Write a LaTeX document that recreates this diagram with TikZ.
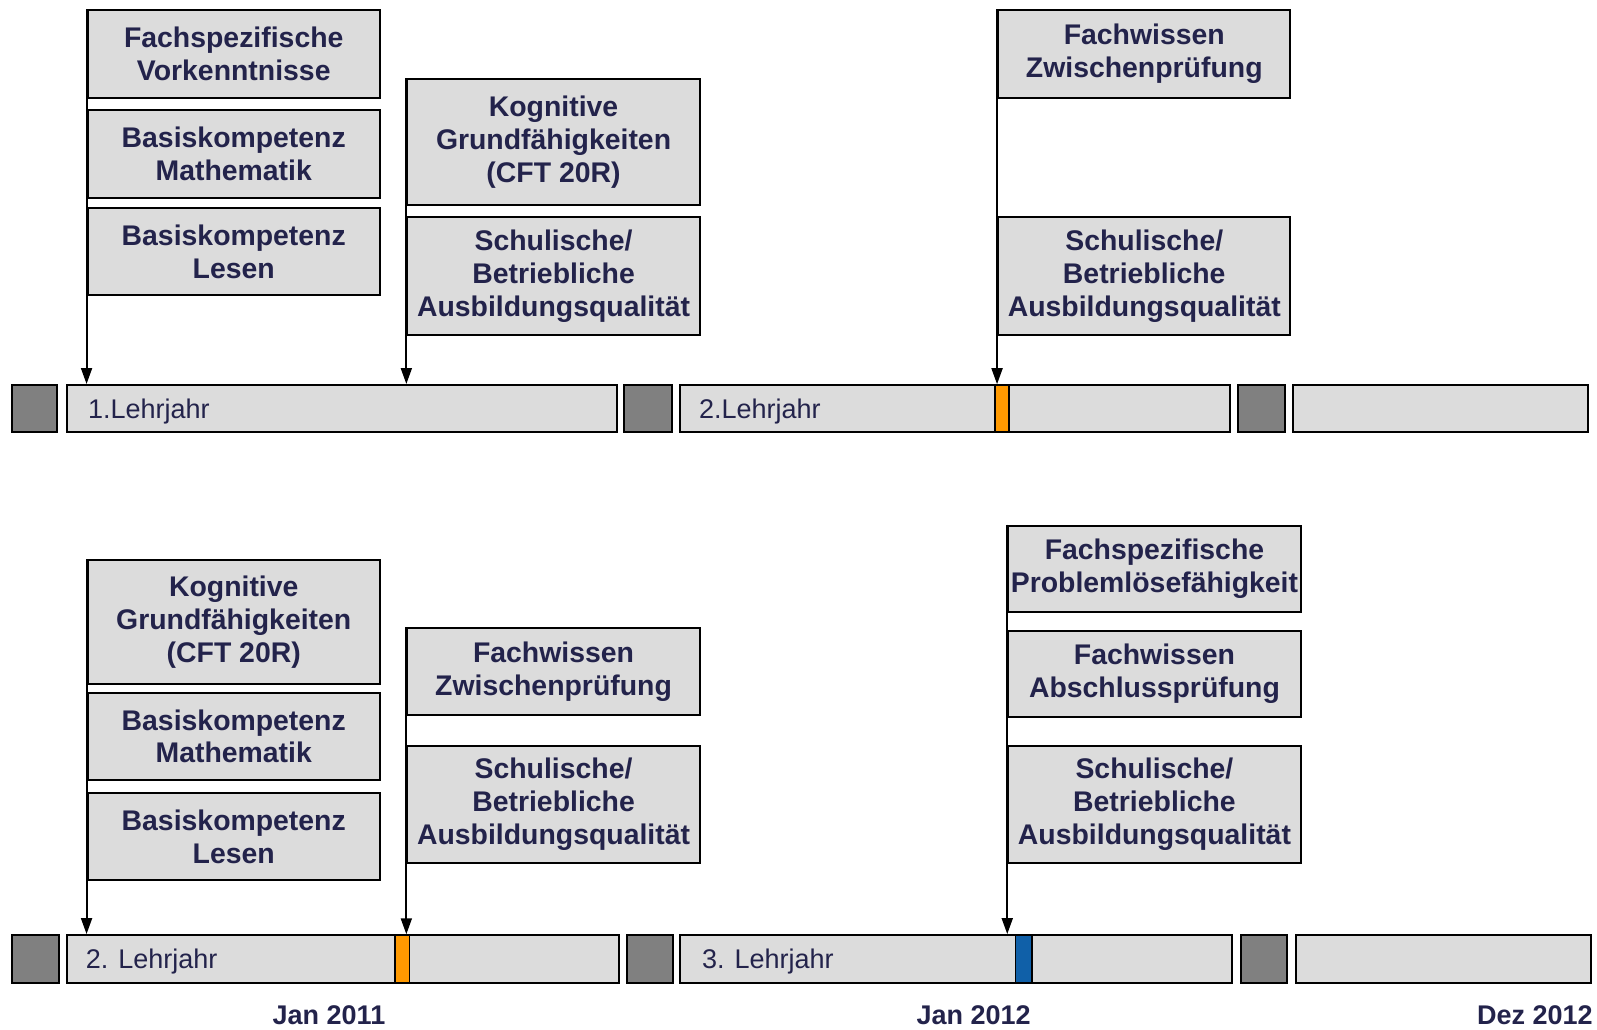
\documentclass[tikz,border=0pt]{standalone}
\usepackage{fontspec}
\setmainfont{Liberation Sans}
\usetikzlibrary{arrows.meta}
\definecolor{boxgray}{RGB}{220,220,220}
\definecolor{darkgray}{RGB}{128,128,128}
\definecolor{txtnavy}{RGB}{35,35,75}
\definecolor{markorange}{RGB}{255,153,0}
\definecolor{markblue}{RGB}{16,96,168}
\begin{document}
\begin{tikzpicture}[x=0.5pt,y=-0.5pt,
  infobox/.style={draw=black,line width=1pt,fill=boxgray,minimum width=146.2pt,inner sep=0pt,
    align=center,text=txtnavy,font=\bfseries\fontsize{14.2}{16.4}\selectfont},
  yearbar/.style={draw=black,line width=1pt,fill=boxgray,inner sep=0pt},
  gapbox/.style={draw=black,line width=1pt,fill=darkgray,inner sep=0pt},
  marker/.style={draw=black,line width=0.8pt,inner sep=0pt},
  barlabel/.style={anchor=west,text=txtnavy,font=\fontsize{13.5}{16}\selectfont,inner sep=0pt},
  datelabel/.style={text=txtnavy,font=\bfseries\fontsize{13.5}{16}\selectfont,inner sep=0pt},
  pointer/.style={line width=0.95pt,-{Triangle[length=8pt,width=5.5pt]}}
]
\useasboundingbox (0,0) rectangle (1597,1029);
% ---------- top row boxes ----------
\node[infobox,minimum height=43.8pt] (A1) at (233.75,54) {Fachspezifische\\Vorkenntnisse};
\node[infobox,minimum height=43.8pt] (A2) at (233.75,153.8) {Basiskompetenz\\Mathematik};
\node[infobox,minimum height=43.8pt] (A3) at (233.75,251.6) {Basiskompetenz\\Lesen};
\node[infobox,minimum height=62.6pt] (B1) at (553.55,142.05) {Kognitive\\Grundfähigkeiten\\(CFT 20R)};
\node[infobox,minimum height=59.1pt] (B2) at (553.55,276) {Schulische/\\Betriebliche\\Ausbildungsqualität};
\node[infobox,minimum height=43.8pt] (C1) at (1144.25,54) {Fachwissen\\Zwischenprüfung};
\node[infobox,minimum height=59.1pt] (C2) at (1144.25,276) {Schulische/\\Betriebliche\\Ausbildungsqualität};
% ---------- top timeline ----------
\node[gapbox,minimum width=22.4pt,minimum height=23.4pt] (g11) at (34.6,408.4) {};
\node[yearbar,minimum width=275pt,minimum height=23.4pt] (y11) at (342.2,408.4) {};
\node[gapbox,minimum width=23.9pt,minimum height=23.4pt] (g12) at (648.25,408.4) {};
\node[yearbar,minimum width=274.9pt,minimum height=23.4pt] (y12) at (955.35,408.4) {};
\node[marker,fill=markorange,minimum width=7.1pt,minimum height=23.4pt] (m11) at (1002.15,408.4) {};
\node[gapbox,minimum width=23.9pt,minimum height=23.4pt] (g13) at (1261.4,408.4) {};
\node[yearbar,minimum width=147.6pt,minimum height=23.4pt] (y13) at (1440.15,408.4) {};
\node[barlabel] (l11) at (87.6,411.5) {1.Lehrjahr};
\node[barlabel] (l12) at (698.7,411.5) {2.Lehrjahr};
% ---------- bottom row boxes ----------
\node[infobox,minimum height=62.1pt] (D1) at (233.75,622.3) {Kognitive\\Grundfähigkeiten\\(CFT 20R)};
\node[infobox,minimum height=43.8pt] (D2) at (233.75,736.4) {Basiskompetenz\\Mathematik};
\node[infobox,minimum height=43.3pt] (D3) at (233.75,836.7) {Basiskompetenz\\Lesen};
\node[infobox,minimum height=43.3pt] (E1) at (553.55,671.7) {Fachwissen\\Zwischenprüfung};
\node[infobox,minimum height=58.6pt] (E2) at (553.55,804.1) {Schulische/\\Betriebliche\\Ausbildungsqualität};
\node[infobox,minimum height=43.3pt] (F1) at (1154.45,568.8) {Fachspezifische\\Problemlösefähigkeit};
\node[infobox,minimum height=43.2pt] (F2) at (1154.45,673.75) {Fachwissen\\Abschlussprüfung};
\node[infobox,minimum height=58.6pt] (F3) at (1154.45,804.1) {Schulische/\\Betriebliche\\Ausbildungsqualität};
% ---------- bottom timeline ----------
\node[gapbox,minimum width=23.4pt,minimum height=23.9pt] (g21) at (35.65,958.95) {};
\node[yearbar,minimum width=276pt,minimum height=23.9pt] (y21) at (343.2,958.95) {};
\node[marker,fill=markorange,minimum width=7.1pt,minimum height=23.9pt] (m21) at (402.3,958.95) {};
\node[gapbox,minimum width=22.9pt,minimum height=23.9pt] (g22) at (650.3,958.95) {};
\node[yearbar,minimum width=276pt,minimum height=23.9pt] (y22) at (956.4,958.95) {};
\node[marker,fill=markblue,minimum width=8.2pt,minimum height=23.9pt] (m22) at (1023.6,958.95) {};
\node[gapbox,minimum width=23.4pt,minimum height=23.9pt] (g23) at (1263.95,958.95) {};
\node[yearbar,minimum width=147.7pt,minimum height=23.9pt] (y23) at (1443.2,958.95) {};
\node[barlabel] (l21) at (85.5,962) {2. Lehrjahr};
\node[barlabel] (l22) at (701.7,962) {3. Lehrjahr};
% ---------- date labels ----------
\node[datelabel] (d1) at (329,1015) {Jan 2011};
\node[datelabel] (d2) at (973.7,1015) {Jan 2012};
\node[datelabel] (d3) at (1535,1015) {Dez 2012};
% ---------- pointers ----------
\draw[pointer] (A1.north west) -- (A1.north west |- y11.north);
\draw[pointer] (B1.north west) -- (B1.north west |- y11.north);
\draw[pointer] (C1.north west) -- (C1.north west |- m11.north);
\draw[pointer] (D1.north west) -- (D1.north west |- y21.north);
\draw[pointer] (E1.north west) -- (E1.north west |- m21.north);
\draw[pointer] (F1.north west) -- (F1.north west |- y22.north);
\end{tikzpicture}
\end{document}
